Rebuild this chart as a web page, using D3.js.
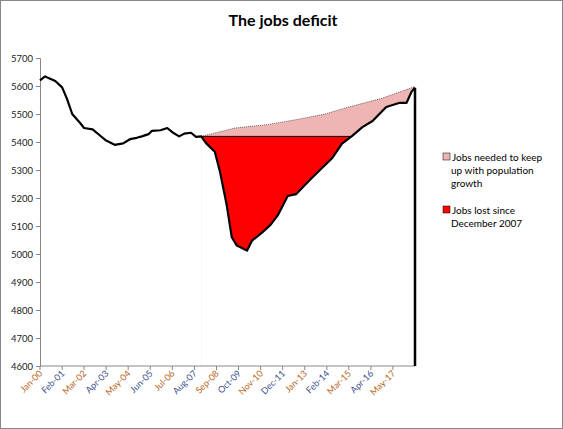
<!DOCTYPE html>
<html><head><meta charset="utf-8">
<script src="https://cdn.jsdelivr.net/npm/d3@7"></script>
<style>body{margin:0;background:#fff;font-family:Lato,"Open Sans",sans-serif;}</style>
</head><body><div id="chart"></div>
<script>
// actual jobs (thousands-ish), monthly keys
const actualDates = ["2000-01","2000-04","2000-10","2001-02","2001-05","2001-08","2002-01","2002-03","2002-08","2002-12","2003-04","2003-09","2004-02","2004-06","2004-10","2005-01","2005-05","2005-07","2005-12","2006-04","2006-07","2006-11","2007-02","2007-06","2007-09","2007-12","2008-03","2008-08","2008-11","2009-03","2009-06","2009-09","2010-03","2010-06","2010-12","2011-05","2011-09","2012-03","2012-08","2013-04","2013-11","2014-05","2014-11","2015-05","2015-11","2016-05","2017-01","2017-09","2018-01","2018-04","2018-06"];
const actualValues = [5620,5634,5618,5595,5553,5500,5465,5450,5445,5425,5405,5390,5395,5410,5415,5420,5428,5440,5442,5450,5435,5420,5430,5433,5418,5420,5395,5365,5295,5177,5060,5030,5012,5048,5077,5105,5137,5207,5214,5264,5306,5341,5394,5422,5453,5475,5525,5540,5540,5580,5594];
const neededDates = ["2007-12","2009-08","2011-03","2012-10","2014-01","2015-03","2016-10","2018-06"];
const neededValues = [5420,5450,5462,5482,5500,5525,5555,5598];
const baseline = 5420;
const tickLabels = ["Jan-00","Feb-01","Mar-02","Apr-03","May-04","Jun-05","Jul-06","Aug-07","Sep-08","Oct-09","Nov-10","Dec-11","Jan-13","Feb-14","Mar-15","Apr-16","May-17"];
const yTicks = d3.range(4600, 5701, 100);

const parse = d3.timeParse("%Y-%m");
const actual = actualDates.map((d, i) => ({date: parse(d), value: actualValues[i]}));
const needed = neededDates.map((d, i) => ({date: parse(d), value: neededValues[i]}));
const start = parse("2007-12");

const W = 563, H = 429;
const margin = {top: 58, right: 148, bottom: 63, left: 40};
const svg = d3.select("#chart").append("svg").attr("width", W).attr("height", H);
svg.append("rect").attr("x", 0.5).attr("y", 0.5).attr("width", W - 1).attr("height", H - 1)
    .attr("fill", "#fff").attr("stroke", "#888");

const x = d3.scaleTime().domain([actual[0].date, actual[actual.length - 1].date]).range([margin.left, W - margin.right]);
const y = d3.scaleLinear().domain([4600, 5700]).range([H - margin.bottom, margin.top]);

svg.append("text").attr("x", 283).attr("y", 26).attr("text-anchor", "middle")
    .attr("font-size", 16).attr("font-weight", "bold").text("The jobs deficit");

// pink: needed line down to bottom
svg.append("path").datum(needed)
    .attr("d", d3.area().x(d => x(d.date)).y0(y(4600)).y1(d => y(d.value)))
    .attr("fill", "#efb5b5");
svg.append("path").datum(needed)
    .attr("d", d3.line().x(d => x(d.date)).y(d => y(d.value)))
    .attr("fill", "none").attr("stroke", "#444").attr("stroke-width", 0.8).attr("stroke-dasharray", "1,1");
// white cover below max(actual, baseline)
const post = actual.filter(d => d.date >= start);
svg.append("path").datum(post)
    .attr("d", d3.area().x(d => x(d.date)).y0(y(4600) + 1).y1(d => y(Math.max(d.value, baseline))))
    .attr("fill", "#fff");
// red: jobs lost
svg.append("path").datum(post)
    .attr("d", d3.area().x(d => x(d.date)).y0(y(baseline)).y1(d => y(Math.min(d.value, baseline))))
    .attr("fill", "#ff0000");
const crossIdx = post.findIndex((d, i) => i > 2 && d.value >= baseline);
svg.append("line").attr("x1", x(start)).attr("x2", x(post[crossIdx].date))
    .attr("y1", y(baseline)).attr("y2", y(baseline)).attr("stroke", "#000").attr("stroke-width", 1);

// axes
const xAxis = svg.append("g").attr("transform", `translate(0,${y(4600)})`);
xAxis.append("line").attr("x1", margin.left).attr("x2", W - margin.right).attr("stroke", "#888");
tickLabels.forEach((t, i) => {
  const px = x(d3.timeMonth.offset(actual[0].date, i * 13));
  xAxis.append("line").attr("x1", px).attr("x2", px).attr("y1", 0).attr("y2", 4).attr("stroke", "#888");
  xAxis.append("text").attr("transform", `translate(${px + 3},${8}) rotate(-45)`)
      .attr("text-anchor", "end").attr("font-size", 9)
      .attr("fill", i % 2 ? "#3a4f8a" : "#b8651b").text(t);
});
const yAxis = svg.append("g").attr("transform", `translate(${margin.left},0)`)
    .call(d3.axisLeft(y).tickValues(yTicks).tickSize(4).tickFormat(d3.format("d")));
yAxis.select(".domain").attr("stroke", "#888");
yAxis.selectAll(".tick line").attr("stroke", "#888");
yAxis.selectAll("text").attr("font-size", 9.5).attr("fill", "#222").attr("font-family", "Lato,sans-serif");

// actual line and final drop
svg.append("path").datum(actual)
    .attr("d", d3.line().x(d => x(d.date)).y(d => y(d.value)))
    .attr("fill", "none").attr("stroke", "#000").attr("stroke-width", 2.2).attr("stroke-linejoin", "round");
const last = actual[actual.length - 1];
svg.append("line").attr("x1", x(last.date)).attr("x2", x(last.date))
    .attr("y1", y(last.value)).attr("y2", y(4600)).attr("stroke", "#000").attr("stroke-width", 2.5);

// legend
const legend = [
  {color: "#efb5b5", lines: ["Jobs needed to keep", "up with population", "growth"], y: 157},
  {color: "#ff0000", lines: ["Jobs lost since", "December 2007"], y: 210}
];
legend.forEach(l => {
  svg.append("rect").attr("x", 443).attr("y", l.y - 4).attr("width", 7).attr("height", 7)
      .attr("fill", l.color).attr("stroke", "#000").attr("stroke-width", 0.5);
  l.lines.forEach((s, i) => svg.append("text").attr("x", i ? 451 : 452).attr("y", l.y + 4 + i * 13)
      .attr("font-size", 10).text(s));
});
</script></body></html>
